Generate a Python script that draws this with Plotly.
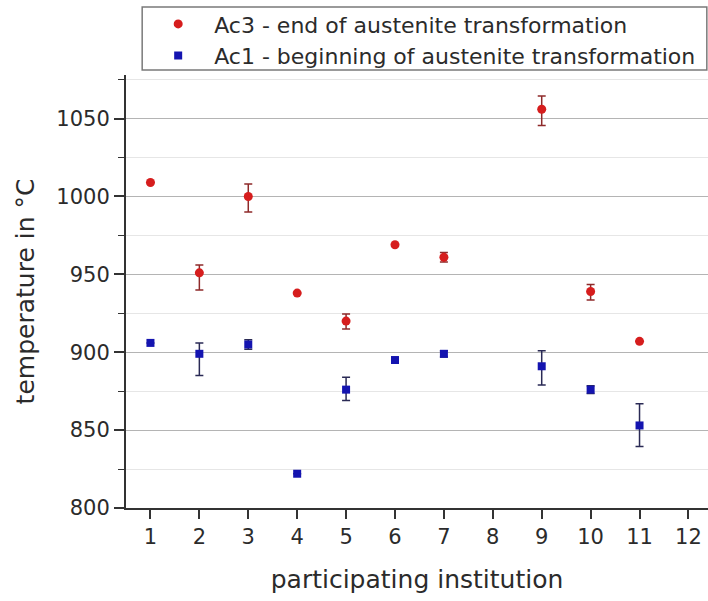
import plotly.graph_objects as go

# Transformation temperatures reported by each participating institution
institutions = [1, 2, 3, 4, 5, 6, 7, 9, 10, 11]

ac3_temp = [1009, 951, 1000, 938, 920, 969, 961, 1056, 939, 907]
ac3_err_plus = [0, 5, 8, 0, 4.5, 0, 3, 8.5, 4.5, 0]
ac3_err_minus = [0, 11, 10, 0, 5, 0, 3, 10.5, 5.5, 0]

ac1_temp = [906, 899, 905, 822, 876, 895, 899, 891, 876, 853]
ac1_err_plus = [0, 7, 3, 0, 8, 0, 2, 10, 2.5, 14]
ac1_err_minus = [0, 14, 3, 0, 7, 0, 2, 12, 2.5, 13.5]

x_ticks = list(range(1, 13))
y_ticks = [800, 850, 900, 950, 1000, 1050]

FONT = "DejaVu Sans"
TEXT = "#2b2b2b"
AXIS = "#333333"

fig = go.Figure()

fig.add_trace(go.Scatter(
    x=institutions, y=ac3_temp, mode="markers",
    name="Ac3 - end of austenite transformation",
    marker=dict(symbol="circle", size=9, color="#d61d1d"),
    error_y=dict(type="data", symmetric=False, array=ac3_err_plus,
                 arrayminus=ac3_err_minus, color="#8e2a2a",
                 thickness=1.5, width=4),
))

fig.add_trace(go.Scatter(
    x=institutions, y=ac1_temp, mode="markers",
    name="Ac1 - beginning of austenite transformation",
    marker=dict(symbol="square", size=8, color="#1414b0"),
    error_y=dict(type="data", symmetric=False, array=ac1_err_plus,
                 arrayminus=ac1_err_minus, color="#2a2a55",
                 thickness=1.5, width=4),
))

# Frame around the legend block above the plot area
fig.add_shape(type="rect", xref="paper", yref="paper",
              x0=0.0278, x1=0.998, y0=1.0115, y1=1.157,
              line=dict(color="#7a7a7a", width=1.5),
              fillcolor="white", layer="below")

fig.update_layout(
    width=708, height=601,
    margin=dict(l=125.5, r=0, t=75, b=93, autoexpand=False),
    paper_bgcolor="white", plot_bgcolor="white",
    font=dict(family=FONT, color=TEXT),
    showlegend=True,
    legend=dict(
        x=0.0278, y=1.166, xanchor="left", yanchor="top",
        font=dict(family=FONT, size=22, color=TEXT),
        bgcolor="rgba(0,0,0,0)", borderwidth=0,
        itemwidth=62, traceorder="normal",
    ),
    xaxis=dict(
        range=[0.5, 12.4], tickmode="array", tickvals=x_ticks,
        ticks="outside", ticklen=9, tickwidth=1.5, tickcolor=AXIS,
        showline=True, linecolor=AXIS, linewidth=2,
        showgrid=False, zeroline=False,
        tickfont=dict(family=FONT, size=21, color=TEXT),
        title=dict(text="participating institution", standoff=22,
                   font=dict(family=FONT, size=25, color=TEXT)),
    ),
    yaxis=dict(
        range=[800, 1078], tickmode="array", tickvals=y_ticks,
        ticks="outside", ticklen=10, tickwidth=1.5, tickcolor=AXIS,
        showline=True, linecolor=AXIS, linewidth=2,
        showgrid=True, gridcolor="#b4b4b4", gridwidth=1,
        zeroline=False,
        minor=dict(tickmode="linear", tick0=800, dtick=25,
                   ticks="outside", ticklen=6, tickwidth=1.2,
                   tickcolor=AXIS, showgrid=True,
                   gridcolor="#e6e6e6", gridwidth=1),
        tickfont=dict(family=FONT, size=21, color=TEXT),
        title=dict(text="temperature in °C", standoff=15,
                   font=dict(family=FONT, size=25, color=TEXT)),
    ),
)

fig.write_html("out.html")
